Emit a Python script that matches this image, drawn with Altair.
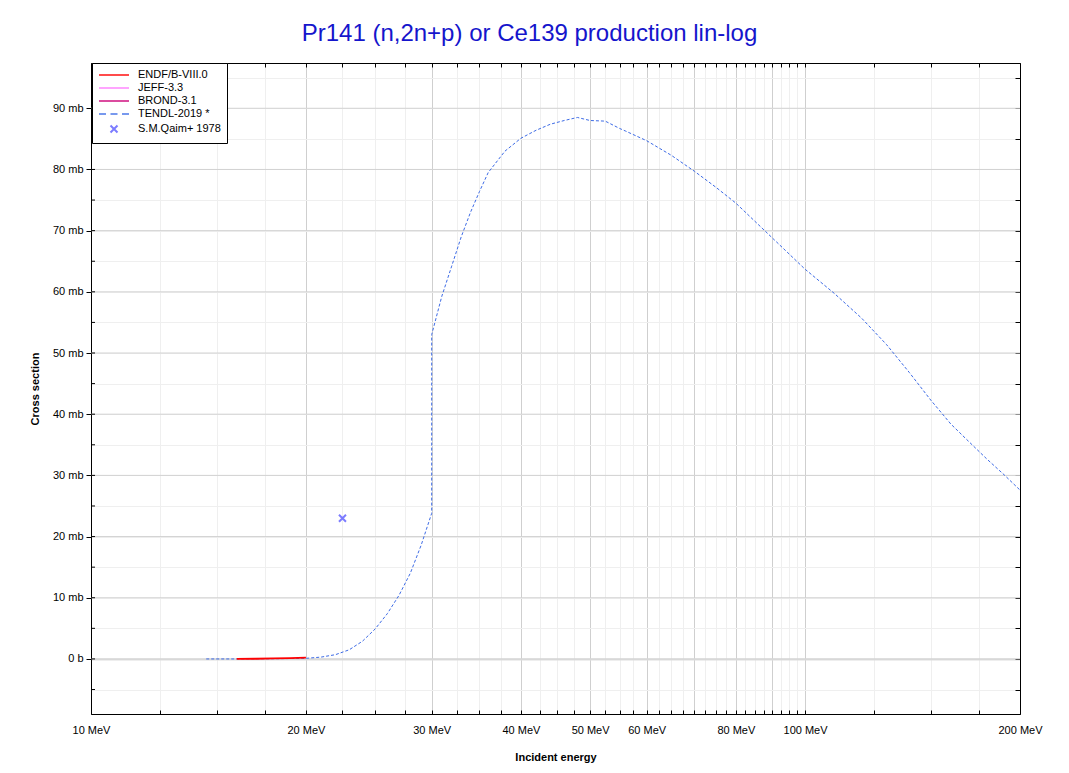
import altair as alt
import pandas as pd

# ---------------- data ----------------
series_names = ["ENDF/B-VIII.0", "JEFF-3.3", "BROND-3.1", "TENDL-2019 *", "S.M.Qaim+ 1978"]
series_colors = ["#ff0000", "#ff80ff", "#cc0077", "#3f6fe8", "#4646ff"]
series_widths = [2, 2, 2, 1.5, 1]

endf_energy = [16.0, 17.0, 18.0, 19.0, 20.0]
endf_xs = [0.0, 0.03, 0.08, 0.14, 0.2]

tendl_energy = [14.5, 16, 18, 20, 21, 22, 23, 24, 25, 26, 27, 28, 29, 30, 30,
                31, 32, 33, 34, 35, 36, 38, 40, 42, 44, 46, 48, 50, 52.5, 55, 56,
                60, 65, 70, 75, 80, 90, 100, 110, 120, 130, 140, 150, 160, 170,
                180, 190, 200]
tendl_xs = [0.0, 0.0, 0.03, 0.1, 0.3, 0.7, 1.5, 2.9, 4.9, 7.4, 10.4, 14.0, 18.6, 23.8, 53.0,
            59.3, 64.2, 69.0, 73.0, 76.4, 79.5, 83.0, 85.1, 86.4, 87.4, 88.0, 88.5, 88.0, 87.9, 86.7, 86.3,
            84.7, 82.3, 79.7, 77.1, 74.5, 68.8, 63.7, 59.7, 55.7, 51.4, 46.8, 42.3, 38.4, 35.4,
            32.6, 30.1, 27.6]

qaim_energy = [22.5]
qaim_xs = [23.0]

x_tick_values = [10 + 2.5 * i for i in range(37)] + [125, 150, 175, 200]
x_label_values = [10, 20, 30, 40, 50, 60, 80, 100, 200]
y_tick_values = [-5 + 5 * i for i in range(21)]
grid_major_y = [0 + 10 * i for i in range(10)]

# ---------------- tables ----------------
endf_df = pd.DataFrame({"E": endf_energy, "xs": endf_xs})
endf_df["idx"] = range(len(endf_df))
tendl_df = pd.DataFrame({"E": tendl_energy, "xs": tendl_xs})
tendl_df["idx"] = range(len(tendl_df))
points_df = pd.DataFrame({"E": qaim_energy, "xs": qaim_xs, "series": series_names[4]})
yticks_df = pd.DataFrame({"v": y_tick_values})

# ---------------- scales ----------------
FONT = "Liberation Sans"
xscale = alt.Scale(type="log", domain=[10, 200], nice=False)
yscale = alt.Scale(domain=[-9.0, 97.4], nice=False, zero=False)
color_scale = alt.Scale(domain=series_names, range=series_colors)
width_scale = alt.Scale(domain=series_names, range=series_widths)
shape_scale = alt.Scale(
    domain=series_names,
    range=[
        "M-1,0H5",
        "M-1,0H5",
        "M-1,0H5",
        "M-1,0H0.4M1.3,0H2.7M3.6,0H5",
        "M1.3,-0.7L2.7,0.7M1.3,0.7L2.7,-0.7",
    ],
)

label_set = ",".join(str(v) for v in x_label_values)

x_bottom = alt.Axis(
    values=x_tick_values,
    labelExpr=f"indexof([{label_set}], datum.value) >= 0 ? datum.value + ' MeV' : ''",
    labelOverlap=False,
    labelFlush=False,
    labelFont=FONT, labelFontSize=11, labelColor="black",
    labelPadding=14,
    tickSize={"expr": "-4"}, tickColor="black",
    domainColor="black",
    grid=True,
    gridColor={"condition": {"test": "(datum.value <= 100 && datum.value % 10 == 0) || datum.value == 200", "value": "#cfcfcf"}, "value": "#efefef"},
    title="Incident energy", titleFont=FONT, titleFontSize=11, titleFontWeight="bold",
    titleColor="black", titlePadding=16,
)
y_left = alt.Axis(
    values=y_tick_values,
    labelExpr="datum.value < 0 || datum.value % 10 != 0 ? '' : (datum.value == 0 ? '0 b' : datum.value + ' mb')",
    labelOverlap=False,
    labelFlush=False,
    labelFont=FONT, labelFontSize=11, labelColor="black",
    labelPadding=3,
    tickSize={"condition": {"test": "datum.value % 10 == 0", "value": 5}, "value": 0},
    tickColor="black",
    domainColor="black",
    grid=True,
    gridColor={"condition": {"test": "datum.value == 0", "value": "#dddddd"},
               "value": "#efefef"},
    gridWidth={"condition": {"test": "datum.value == 0", "value": 2}, "value": 1},
    title="Cross section", titleFont=FONT, titleFontSize=11, titleFontWeight="bold",
    titleColor="black", titlePadding=12,
)
x_top = alt.Axis(
    orient="top", values=x_tick_values, labels=False, grid=False, title=None,
    tickSize={"expr": "-4"}, tickColor="black", domainColor="black",
)
y_right = alt.Axis(
    orient="right", values=y_tick_values, labels=False, grid=False, title=None,
    tickSize={"expr": "-5"}, tickColor="black", domainColor="black",
)

gridlines = alt.Chart(pd.DataFrame({"v": grid_major_y})).mark_rule(
    color="#d2d2d2", strokeWidth=1
).encode(
    y=alt.Y("v:Q", scale=yscale, axis=y_left),
)

# inward tick marks on the left frame edge
left_inner_ticks = alt.Chart(yticks_df).mark_rule(color="black", strokeWidth=1).encode(
    y=alt.Y("v:Q", scale=yscale, axis=None),
    x=alt.value(0),
    x2=alt.value(4),
)

tendl_line = alt.Chart(tendl_df).mark_line(
    clip=True, color="#3d6be6", strokeWidth=1, strokeDash=[3, 2]
).encode(
    x=alt.X("E:Q", scale=xscale, axis=x_bottom),
    y=alt.Y("xs:Q", scale=yscale, axis=None),
    order=alt.Order("idx:Q"),
)

endf_line = alt.Chart(endf_df).mark_line(
    clip=True, color="#ff0000", strokeWidth=1.8
).encode(
    x=alt.X("E:Q", scale=xscale, axis=None),
    y=alt.Y("xs:Q", scale=yscale, axis=None),
    order=alt.Order("idx:Q"),
)

points = alt.Chart(points_df).mark_point(filled=False, size=100, xOffset=-10, clip=True).encode(
    x=alt.X("E:Q", scale=xscale, axis=x_top),
    y=alt.Y("xs:Q", scale=yscale, axis=y_right),
    color=alt.Color(
        "series:N", scale=color_scale,
        legend=alt.Legend(
            title=None, orient="none", legendX=1, legendY=0,
            labelFont=FONT, labelFontSize=11, labelColor="black",
            labelOffset=28, padding=6, rowPadding=2,
            strokeColor="black", fillColor="white", cornerRadius=0,
        ),
    ),
    shape=alt.Shape("series:N", scale=shape_scale),
    strokeWidth=alt.StrokeWidth("series:N", scale=width_scale),
)

chart = alt.layer(gridlines, left_inner_ticks, tendl_line, endf_line, points).resolve_axis(
    x="independent", y="independent"
).properties(
    width=929,
    height=651,
    padding={"left": 83, "top": 55, "right": 41, "bottom": 51},
    autosize=alt.AutoSizeParams(type="none"),
    title=alt.TitleParams(
        "Pr141 (n,2n+p) or Ce139 production lin-log",
        font=FONT, fontSize=24, fontWeight="normal", color="#1515cc",
        anchor="middle", dx=-26, dy=16, offset=14, baseline="alphabetic",
    ),
).configure_view(
    stroke="black", strokeWidth=1
).configure(
    font=FONT, background="white"
)

chart.save("out.html", embed_options={"renderer": "svg", "actions": False})
